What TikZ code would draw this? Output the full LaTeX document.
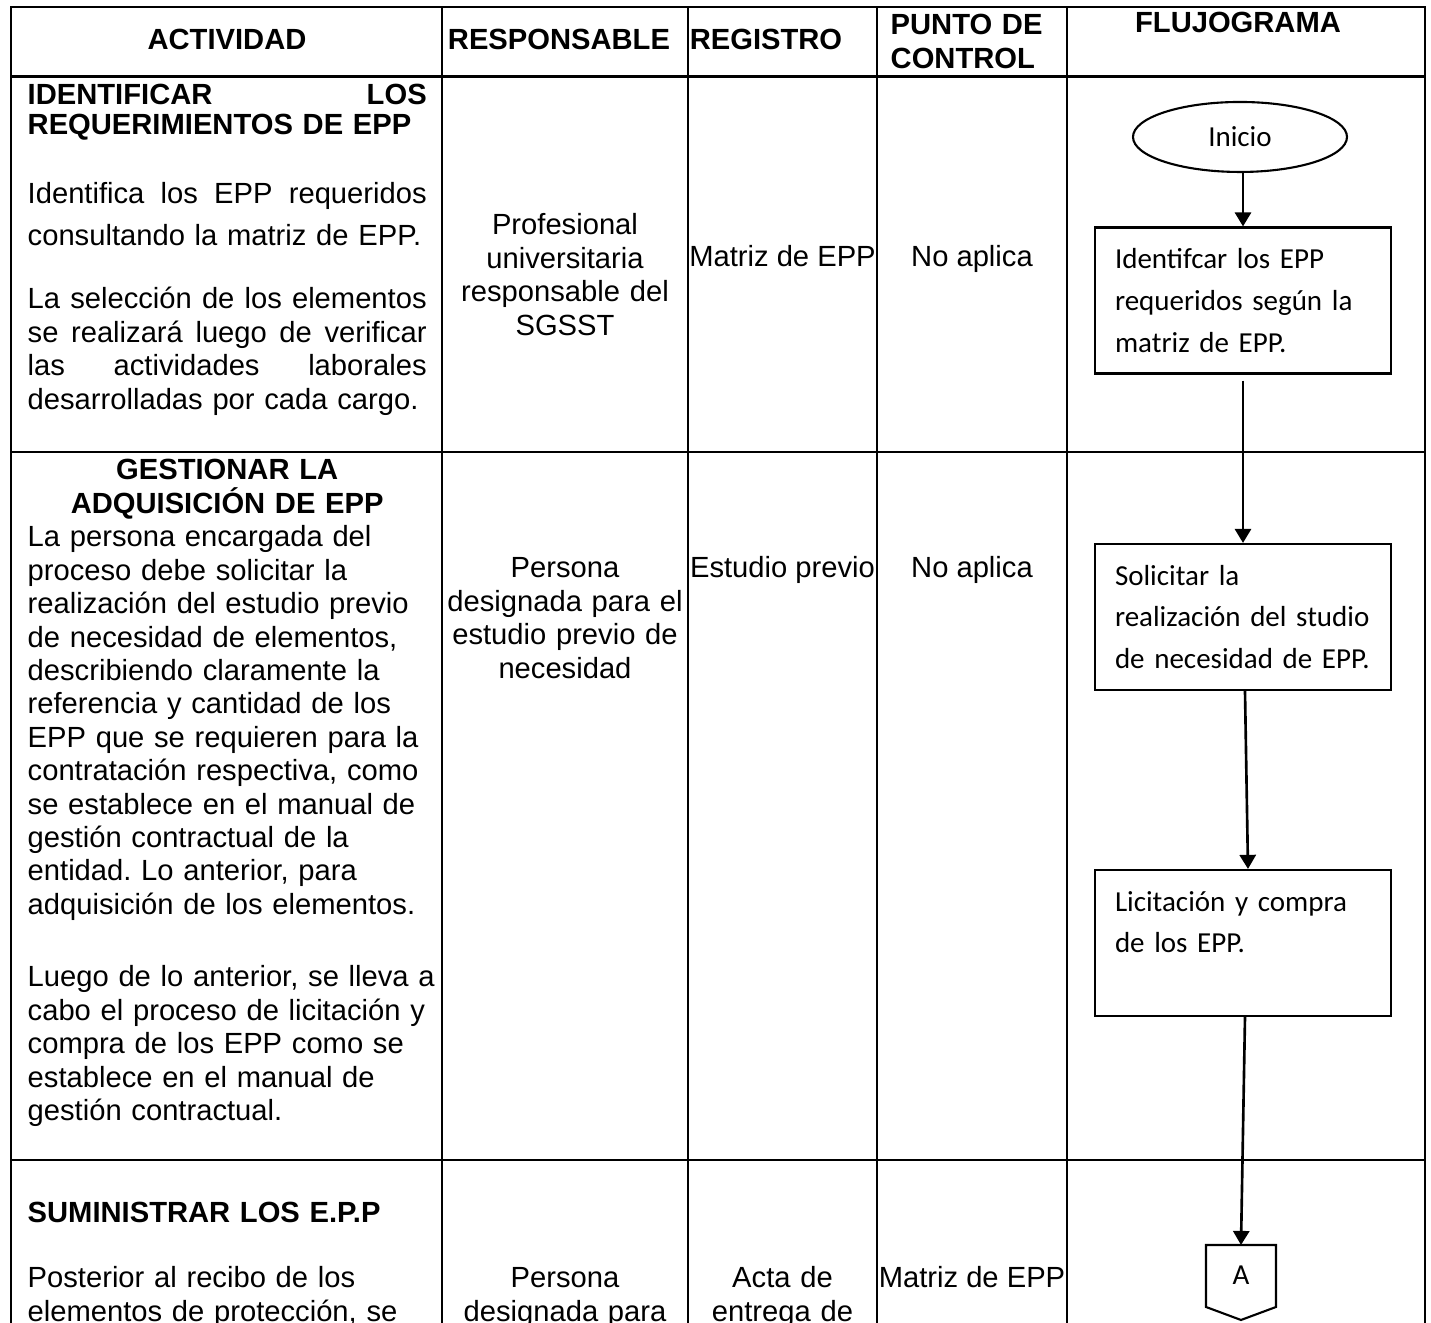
\documentclass[tikz,border=0pt]{standalone}
\usepackage{fontspec}
\usepackage{tikz}
\usetikzlibrary{shapes.geometric, arrows.meta, positioning, calc}
\newfontfamily\arialfont{Liberation Sans}
\newfontfamily\calibrifont{Carlito}
\newcommand{\celltxt}{\arialfont\fontsize{8.3}{9.5}\selectfont\frenchspacing}
\newcommand{\flowtxt}{\calibrifont\fontsize{8.25}{11.86}\selectfont}
\newcommand{\jline}[1]{\leavevmode\hbox to 3.99cm{\spaceskip=0.278em plus 1fil\relax #1}}
\tikzstyle{arrow} = [line width=0.75pt,-{Triangle[width=4.6pt,length=4pt]}]
\tikzstyle{grid} = [line width=0.8pt, line cap=rect]
\tikzstyle{cell} = [font=\celltxt, inner sep=0pt]
\tikzstyle{head} = [cell, font=\celltxt\bfseries]
\tikzstyle{para} = [cell, anchor=base west, text width=4.1cm, align=left]
\tikzstyle{process} = [draw, line width=0.6pt, font=\flowtxt, text width=2.56cm, inner xsep=0.2cm, inner ysep=0pt, minimum height=1.46cm, align=left]
\tikzstyle{startstop} = [ellipse, draw, line width=0.6pt, minimum width=2.14cm, minimum height=0.70cm, inner sep=0pt, font=\flowtxt]

\begin{document}
\begin{tikzpicture}
\useasboundingbox (0,0) rectangle (14.31,13.23);
\clip (0,0) rectangle (14.31,13.23);

% Table lines
\draw[grid] (0.11,13.16) -- (14.25,13.16);
\draw[grid] (0.11,12.465) -- (14.25,12.465);
\draw[grid] (0.11,8.71) -- (14.25,8.71);
\draw[grid] (0.11,1.63) -- (14.25,1.63);
\draw[grid] (0.11,13.16) -- (0.11,-0.2);
\draw[grid] (4.42,13.16) -- (4.42,-0.2);
\draw[grid] (6.88,13.16) -- (6.88,-0.2);
\draw[grid] (8.77,13.16) -- (8.77,-0.2);
\draw[grid] (10.67,13.16) -- (10.67,-0.2);
\draw[grid] (14.25,13.16) -- (14.25,-0.2);

% Header row
\node[head, anchor=base] (hact) at (2.27,12.73) {ACTIVIDAD};
\node[head, anchor=base] (hresp) at (5.59,12.73) {RESPONSABLE};
\node[head, anchor=base] (hreg) at (7.66,12.73) {REGISTRO};
\node[head, anchor=base west, text width=1.7cm, align=left] (hpunto) at (8.90,12.88) {PUNTO DE\\CONTROL};
\node[head, anchor=base] (hflujo) at (12.38,12.90) {FLUJOGRAMA};

% Row 1
\node[para, font=\celltxt\bfseries] (id1) at (0.27,12.18) {\jline{IDENTIFICAR LOS}\\[-0.04cm]REQUERIMIENTOS DE EPP};
\node[para] (id2) at (0.27,11.19) {\jline{Identifica los EPP requeridos}\\[0.08cm]consultando la matriz de EPP.};
\node[para] (id3) at (0.27,10.14) {\jline{La selección de los elementos}\\ \jline{se realizará luego de verificar}\\ \jline{las actividades laborales}\\ desarrolladas por cada cargo.};
\node[cell, anchor=base, text width=2.4cm, align=center] (resp1) at (5.65,10.88) {Profesional\\universitaria\\responsable del\\SGSST};
\node[cell, anchor=base] (reg1) at (7.825,10.56) {Matriz de EPP};
\node[cell, anchor=base] (ctrl1) at (9.72,10.56) {No aplica};

% Row 2
\node[para, font=\celltxt\bfseries, text width=3.99cm, align=center] (ga1) at (0.27,8.43) {GESTIONAR LA\\ADQUISICIÓN DE EPP};
\node[para] (ga2) at (0.27,7.76) {La persona encargada del\\proceso debe solicitar la\\realización del estudio previo\\de necesidad de elementos,\\describiendo claramente la\\referencia y cantidad de los\\EPP que se requieren para la\\contratación respectiva, como\\se establece en el manual de\\gestión contractual de la\\entidad. Lo anterior, para\\adquisición de los elementos.};
\node[para] (ga3) at (0.27,3.36) {Luego de lo anterior, se lleva a\\cabo el proceso de licitación y\\compra de los EPP como se\\establece en el manual de\\gestión contractual.};
\node[cell, anchor=base, text width=2.44cm, align=center] (resp2) at (5.65,7.45) {Persona\\designada para el\\estudio previo de\\necesidad};
\node[cell, anchor=base] (reg2) at (7.825,7.45) {Estudio previo};
\node[cell, anchor=base] (ctrl2) at (9.72,7.45) {No aplica};

% Row 3
\node[para, font=\celltxt\bfseries] (su1) at (0.27,1.00) {SUMINISTRAR LOS E.P.P};
\node[para] (su2) at (0.27,0.35) {Posterior al recibo de los\\elementos de protección, se};
\node[cell, anchor=base, text width=2.4cm, align=center] (resp3) at (5.65,0.35) {Persona\\designada para};
\node[cell, anchor=base, text width=1.8cm, align=center] (reg3) at (7.825,0.35) {Acta de\\entrega de};
\node[cell, anchor=base] (ctrl3) at (9.72,0.35) {Matriz de EPP};

% Flowchart
\node[startstop] (inicio) at (12.40,11.86) {Inicio};
\node[process] (identificar) at (12.43,10.225) {Identifcar los EPP\\requeridos según la\\matriz de EPP.};
\node[process] (solicitar) at (12.43,7.06) {Solicitar la\\realización del studio\\de necesidad de EPP.};
\node[process] (licitacion) at (12.43,3.80) {Licitación y compra\\de los EPP.\\ \mbox{}};
\coordinate (conAtop) at (12.41,0.78);
\draw[line width=0.6pt] (conAtop) -- ++(0.35,0) -- ++(0,-0.62) -- ++(-0.35,-0.13) -- ++(-0.35,0.13) -- ++(0,0.62) -- cycle;
\node[font=\flowtxt, inner sep=0pt, anchor=base] (conA) at (12.41,0.38) {A};

\draw[arrow] ([xshift=0.03cm]inicio.south) -- (identificar);
\draw[arrow, shorten <=0.06cm] (identificar) -- (solicitar);
\draw[arrow] ([xshift=0.02cm]solicitar.south) -- ([xshift=0.05cm]licitacion.north);
\draw[arrow] ([xshift=0.02cm]licitacion.south) -- (conAtop);
\end{tikzpicture}
\end{document}
